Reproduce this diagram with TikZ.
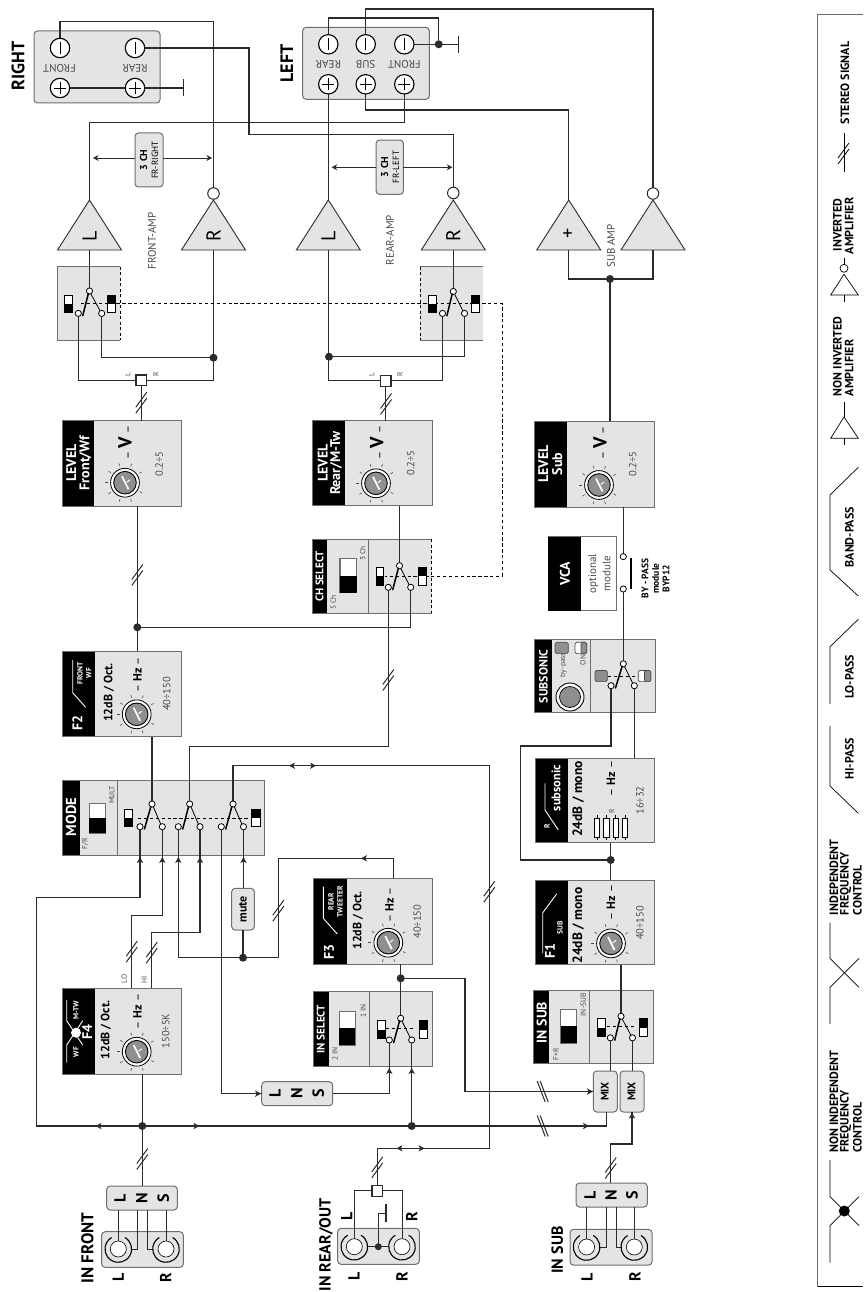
\documentclass[tikz,border=0pt]{standalone}
\usepackage{fontspec}
\setmainfont{PT Sans}
\usetikzlibrary{arrows.meta,calc}
\definecolor{pgray}{HTML}{E3E4E6}
\definecolor{edge}{HTML}{6E6E6E}
\definecolor{wc}{HTML}{2B2B2B}
\definecolor{tg}{HTML}{4A4A4A}
\definecolor{kg}{HTML}{8E8F91}
\newcount\tcnt
\newcommand\fs[1]{\fontsize{#1}{#1}\selectfont}
\pgfdeclarelayer{bg}\pgfdeclarelayer{wires}
\pgfsetlayers{bg,wires,main}
\tikzset{
 wire/.style={draw=wc,line width=1.2pt,line join=miter},
 lbl/.style={rotate=90,inner sep=0pt,outer sep=0pt},
 panelbox/.style={fill=pgray,inner sep=0pt,outer sep=0pt},
 frame/.style={draw=edge,line width=.9pt},
 soft/.style={fill=pgray,draw=edge,line width=1pt,rounded corners=3.5pt,inner sep=0pt,outer sep=0pt},
 contact/.style={circle,draw=black,fill=white,line width=.8pt,minimum size=6.2pt,inner sep=0pt,outer sep=0pt},
 dotn/.style={circle,fill=wc,minimum size=8pt,inner sep=0pt,outer sep=0pt},
 invc/.style={circle,draw=wc,fill=white,line width=1pt,minimum size=11.5pt,inner sep=0pt,outer sep=0pt},
 term/.style={circle,draw=black,fill=white,line width=1.1pt,minimum size=19.4pt,inner sep=0pt,outer sep=0pt},
 sq/.style={rectangle,draw=wc,fill=white,line width=1.1pt,minimum size=10.6pt,inner sep=0pt,outer sep=0pt},
 title/.style={white,font=\fs{14}\bfseries},
 tiny/.style={white,font=\fs{7.5}\bfseries},
 small/.style={tg,font=\fs{7.5}},
 val/.style={tg,font=\fs{10.5}},
 dbt/.style={black,font=\fs{12}\bfseries},
 lgt/.style={black,font=\fs{12}\bfseries,anchor=west},
 thinarrow/.style={draw=wc,line width=.7pt,{Stealth[length=5.5pt,width=6pt]}-},
 dashl/.style={draw=black,line width=.6pt,dash pattern=on 3.3pt off 2.6pt},
 legline/.style={draw=black,line width=.7pt},
}
\newcommand\T[4][]{\global\advance\tcnt by 1 \node[lbl,#1] (t\the\tcnt) at (#2,#3) {#4};}
\newcommand\panel[6]{%
 \pgfmathsetmacro\pw{#4-#2}\pgfmathsetmacro\ph{#5-#3}%
 \node[panelbox,minimum width=\pw pt,minimum height=\ph pt] (#1) at ({(#2+#4)/2},{(#3+#5)/2}) {};
 \fill[black] (#2,#3) rectangle (#6,#5);
 \draw[frame] (#2,#3) rectangle (#4,#5);}
\newcommand\knob[2]{\begin{scope}[shift={(#1,#2)}]
 \foreach \a in {-145,-107,-71,-33,31,71,107,146,180} \draw[draw=tg,line width=.6pt] (\a:17.2) -- (\a:20);
 \draw[black,fill=white,line width=.8pt] (0,0) circle [radius=14.4];
 \draw[black,fill=kg,line width=.9pt] (0,0) circle [radius=11.3];
 \draw[white,line width=1.7pt] (-3,-6.5) -- (3.5,6.5);
 \draw[white,line width=1pt] (1.8,-.5) -- (5,-3);
 \end{scope}}
\newcommand\toggle[4]{%
 \draw[draw=edge,fill=white,line width=1.2pt] (#1,#2) rectangle (#3,#4);
 \fill[black] ($(#1,#2)!.5!(#1,#4)$) rectangle (#3,#4);}
\newcommand\indic[5]{% x1 y1 x2 y2 black-half: 0 lower 1 upper
 \draw[draw=black,fill=white,line width=.7pt] (#1,#2) rectangle (#3,#4);
 \ifnum#5=0 \fill[black] (#1,{(#2+#4)/2}) rectangle (#3,#4);
 \else \fill[black] (#1,#2) rectangle (#3,{(#2+#4)/2}); \fi}
\newcommand\arms[3]{% names: common,left,right
 \draw[black,line width=1.5pt] ([shift={(-1,2)}]#1.center) -- ([shift={(4.3,2.8)}]#2.center);
 \draw[black,line width=.8pt] ([shift={(1.4,3)}]#1.center) -- ([shift={(-1.6,-2.6)}]#3.center);}
\newcommand\amp[2]{% name, x
 \fill[pgray] (#2,200) -- ++(32,50) -- ++(-64,0) -- cycle;
 \draw[draw=wc,line width=.9pt] (#2,200) -- ++(32,50) -- ++(-64,0) -- cycle;
 \coordinate (#1-a) at (#2,200); \coordinate (#1-b) at (#2,250);}
\newcommand\arrU[2]{\fill[wc] (#1,#2) -- ++(3.2,6) -- ++(-3.2,-1.6) -- ++(-3.2,1.6) -- cycle;}
\newcommand\arrL[2]{\fill[wc] (#1,#2) -- ++(6,3.2) -- ++(-1.6,-3.2) -- ++(1.6,-3.2) -- cycle;}
\newcommand\arrR[2]{\fill[wc] (#1,#2) -- ++(-6,3.2) -- ++(1.6,-3.2) -- ++(-1.6,-3.2) -- cycle;}
\newcommand\stv[2]{\draw[wc,line width=1pt] (#1,#2) ++(-5.5,4.5) -- ++(11,-15);\draw[wc,line width=1pt] (#1,#2) ++(-5.5,10.5) -- ++(11,-15);}
\newcommand\sth[2]{\draw[wc,line width=1pt] (#1,#2) ++(-5.5,-10.5) -- ++(8,21);\draw[wc,line width=1pt] (#1,#2) ++(-2.5,-10.5) -- ++(8,21);}
\newcommand\jack[3]{% name x y
 \draw[black,line width=1.1pt] (#2,#3) ++(-60:13.3) arc[start angle=-60,end angle=240,radius=13.3];
 \node[circle,draw=black,fill=white,line width=.6pt,minimum size=16pt,inner sep=0pt,outer sep=0pt] (#1) at (#2,#3) {};}
\newcommand\tmark[2]{\draw[black,line width=.8pt] (#1.center) ++(0,-6) -- ++(0,12); \ifnum#2=1 \draw[black,line width=.8pt] (#1.center) ++(-6,0) -- ++(12,0);\fi}
\begin{document}
\begin{tikzpicture}[x=1pt,y=-1pt]
\useasboundingbox (0,0) rectangle (863,1292);

% ---------- panels -------------
\begin{pgfonlayer}{bg}
\node[soft,minimum width=126pt,minimum height=72pt] (rbox) at (97,67) {};
\node[soft,minimum width=126.6pt,minimum height=72pt] (lbox) at (366,63.3) {};
\node[soft,minimum width=28pt,minimum height=54pt] (cf) at (149,160) {};
\node[soft,minimum width=27.3pt,minimum height=54.3pt] (cr) at (389.7,167.2) {};
\node[panelbox,minimum width=63pt,minimum height=73.3pt] (fsw) at (88.5,303.4) {};
\draw[frame] (120,266.7) -- (57,266.7) -- (57,340) -- (120,340);
\draw[draw=black,line width=.7pt,dash pattern=on 3pt off 2.5pt] (120,266.7) -- (120,340);
\node[panelbox,minimum width=62.7pt,minimum height=73.3pt] (rsw) at (451.4,303.4) {};
\draw[frame] (483,266.7) -- (420,266.7);
\draw[frame] (420,340) -- (483,340);
\draw[draw=black,line width=.7pt,dash pattern=on 3pt off 2.5pt] (420,266.7) -- (420,340);
\panel{lvf}{62}{420.7}{181.3}{506.3}{94.3}
\panel{lvr}{312.7}{420.7}{432.3}{505.7}{345}
\panel{lvs}{534.3}{421.4}{654}{507}{566.7}
\panel{csel}{312.3}{539}{431.7}{613.3}{327.3}
\draw[draw=edge,line width=1pt] (368.3,539) -- (368.3,613.3);
\draw[draw=pgray,line width=1pt] (431.7,539) -- (431.7,613.3);
\draw[draw=black,line width=.7pt,dash pattern=on 3pt off 2.5pt] (431.7,539) -- (431.7,613.3);
\panel{ff2}{62}{651}{181.3}{736.7}{95}
\panel{ff4}{62}{988.3}{181.3}{1074.3}{95}
\panel{ff3}{313.3}{878.3}{432.7}{964}{346.7}
\panel{mode}{62.3}{780.7}{264.3}{855}{80}
\draw[draw=edge,line width=1pt] (117.7,780.7) -- (117.7,855);
\panel{isel}{313.3}{991.7}{432.7}{1066}{328.7}
\draw[draw=edge,line width=1pt] (369,991.7) -- (369,1066);
\panel{sub}{534.3}{639.8}{655}{712.8}{551.7}
\draw[draw=edge,line width=1pt] (590.7,639.8) -- (590.7,712.8);
\panel{fsub}{535}{758}{654}{842.9}{568.3}
\panel{ff1}{535}{880}{654}{964.8}{568.3}
\panel{insub}{533.3}{990}{653.3}{1063}{549}
\draw[draw=edge,line width=1pt] (589.3,990) -- (589.3,1063);
\node[draw=edge,fill=white,line width=.9pt,minimum width=67.7pt,minimum height=74pt,inner sep=0pt,outer sep=0pt] (vca) at (582.2,573.7) {};
\fill[black] (548.3,536.7) rectangle (580.7,610.7);
\node[soft,minimum width=81.6pt,minimum height=35.6pt] (jf) at (142.5,1249.5) {};
\node[soft,minimum width=81.6pt,minimum height=36pt] (jr) at (378.5,1246.3) {};
\node[soft,minimum width=82pt,minimum height=35.7pt] (js) at (611,1247.2) {};
\node[soft,minimum width=70.6pt,minimum height=24pt] (lf) at (142,1198) {};
\node[soft,minimum width=71pt,minimum height=24pt] (ln2) at (297.2,1093.7) {};
\node[soft,minimum width=71.3pt,minimum height=24pt] (ls) at (611.7,1195) {};
\node[soft,minimum width=22.6pt,minimum height=41.7pt] (mute) at (243,909.2) {};
\node[soft,minimum width=24pt,minimum height=41pt] (mix1) at (605.3,1091.5) {};
\node[soft,minimum width=24pt,minimum height=41pt] (mix2) at (632,1091.5) {};
\amp{fl}{89.5}\amp{fr}{213.5}\amp{rl}{328.3}\amp{rr}{453.3}\amp{sl}{568.7}\amp{sr}{653}
\end{pgfonlayer}

% ---------- terminals, dots, contacts -------------
\node[term] (rfm) at (60,48) {}; \node[term] (rrm) at (135,48) {};
\node[term] (rfp) at (60,88) {}; \node[term] (rrp) at (135,88) {};
\node[term] (lrm) at (328.3,44.3) {}; \node[term] (lsm) at (365.7,44.3) {}; \node[term] (lfm) at (404.3,44.3) {};
\node[term] (lrp) at (328.3,84.3) {}; \node[term] (lsp) at (365.7,84.3) {}; \node[term] (lfp) at (404.3,84.3) {};
\tmark{rfm}{0}\tmark{rrm}{0}\tmark{rfp}{1}\tmark{rrp}{1}
\tmark{lrm}{0}\tmark{lsm}{0}\tmark{lfm}{0}\tmark{lrp}{1}\tmark{lsp}{1}\tmark{lfp}{1}
\node[invc] (frc) at (213.5,193.5) {}; \node[invc] (rrc) at (453.3,193) {}; \node[invc] (src) at (653,193.5) {};
\node[dotn] (dg) at (438.7,44.3) {};
\coordinate (g1) at (183.3,88); \coordinate (g2) at (458.3,44.3);
\node[dotn] (dsub) at (610,279) {};
\node[dotn] (dfs) at (213.5,357.7) {};
\node[dotn] (drs) at (329,356.7) {};
\node[dotn] (dlf) at (137.3,627.3) {};
\node[dotn] (dfb) at (142.3,1126) {};
\node[dotn] (drb) at (411.7,1126) {};
\node[dotn] (dm) at (243,957.7) {};
\node[dotn] (di) at (400.7,978.3) {};
\node[dotn] (df1) at (610.7,860) {};
\node[dotn,minimum size=7pt] (djr) at (378.3,1246.7) {};
\node[sq] (fq) at (141.3,380.3) {}; \node[sq] (rq) at (385.7,380.8) {}; \node[sq] (jq) at (377.3,1190.8) {};
\node[contact] (fsc) at (89.5,291) {}; \node[contact] (fsl) at (78.3,313.4) {}; \node[contact] (fsr) at (101.7,313.4) {};
\node[contact] (rsc) at (453.3,291.5) {}; \node[contact] (rsl) at (442.5,313.4) {}; \node[contact] (rsr) at (464.5,313.4) {};
\node[contact] (csc) at (399.5,565.7) {}; \node[contact] (csl) at (388.3,587.3) {}; \node[contact] (csr) at (410.7,587.3) {};
\node[contact] (m1c) at (152,804) {}; \node[contact] (m1l) at (140,826.7) {}; \node[contact] (m1r) at (162.3,826.7) {};
\node[contact] (m2c) at (189.7,804) {}; \node[contact] (m2l) at (178.3,826.7) {}; \node[contact] (m2r) at (200,826.7) {};
\node[contact] (m3c) at (233,804) {}; \node[contact] (m3l) at (221.3,826.7) {}; \node[contact] (m3r) at (243.5,826.7) {};
\node[contact] (isc) at (400.7,1018.3) {}; \node[contact] (isl) at (389.3,1040) {}; \node[contact] (isr) at (411.7,1040) {};
\node[contact] (ssc) at (623.3,663.8) {}; \node[contact] (ssl) at (611,685.7) {}; \node[contact] (ssr) at (634.3,685.7) {};
\node[contact] (ibc) at (621,1016.3) {}; \node[contact] (ibl) at (610.3,1037.8) {}; \node[contact] (ibr) at (632.5,1037.8) {};
\node[contact] (by1) at (623.3,556.6) {}; \node[contact] (by2) at (623.3,589) {};

% dashed ganging (under the indicators)
\draw[dashl] (81,303.5) -- (502,303.5) -- (502,576) -- (385,576);
\draw[dashl] (138,818) -- (248,818);
\draw[dashl] (386,1028.7) -- (415,1028.7);
\draw[dashl] (607,1026.5) -- (636,1026.5);
\draw[dashl] (608,676.5) -- (638,676.5);

\arms{fsc}{fsl}{fsr}\arms{rsc}{rsl}{rsr}\arms{csc}{csl}{csr}
\arms{m1c}{m1l}{m1r}\arms{m2c}{m2l}{m2r}\arms{m3c}{m3l}{m3r}
\arms{isc}{isl}{isr}\arms{ssc}{ssl}{ssr}\arms{ibc}{ibl}{ibr}

\indic{64.3}{295}{72}{312.7}{0}\indic{107.7}{295}{115.4}{312.7}{1}
\indic{428.3}{295}{436}{312.7}{0}\indic{471.7}{295}{479.4}{312.7}{1}
\indic{376}{567.3}{383.7}{585}{0}\indic{418.3}{567.3}{426}{585}{1}
\indic{124.3}{809.3}{132.5}{826.7}{0}\indic{251.7}{809.3}{260}{826.7}{1}
\indic{377.3}{1020.7}{385}{1038.3}{0}\indic{419.3}{1020.7}{427}{1038.3}{1}
\indic{597.3}{1018.4}{605}{1036.7}{0}\indic{639.3}{1018.4}{647}{1036.7}{1}
\toggle{89.3}{803.3}{105.7}{833.3}
\toggle{340}{558.3}{356.7}{592.7}
\toggle{339.3}{1011.7}{355.3}{1045}
\toggle{560.7}{1009.7}{576.7}{1042.9}
\draw[draw=tg,fill=kg,line width=.7pt,rounded corners=1.5pt] (555,642.3) rectangle (568.3,653.6);
\draw[draw=tg,fill=white,line width=.7pt,rounded corners=1.5pt] (575,642.3) rectangle (586.7,653.6);
\draw[draw=tg,fill=kg,line width=.7pt,rounded corners=1.5pt] (581,642.3) rectangle (586.7,653.6);
\draw[draw=tg,fill=kg,line width=.7pt,rounded corners=1.5pt] (595,670.4) rectangle (607.3,681.6);
\draw[draw=tg,fill=white,line width=.7pt,rounded corners=1.5pt] (638.3,670.4) rectangle (650.7,681.6);
\draw[draw=tg,fill=kg,line width=.7pt,rounded corners=1.5pt] (644.5,670.4) rectangle (650.7,681.6);
\draw[black,fill=white,line width=.9pt] (570,697) circle [radius=14];
\draw[black,fill=kg,line width=.7pt] (570,697) circle [radius=10.5];
\knob{125}{482.7}\knob{376}{483.3}\knob{599}{485}
\knob{136.7}{714.3}\knob{136.7}{1051.7}\knob{388.3}{942.7}\knob{611}{943.4}
\jack{jfl}{118.3}{1249}\jack{jfr}{166}{1249}
\jack{jrl}{354.3}{1246.7}\jack{jrr}{402}{1246.7}
\jack{jsl}{586.6}{1247}\jack{jsr}{634.3}{1247}
\draw[black,line width=2.4pt] (630.7,558) -- (630.7,589);
\foreach \x in {597,606.3,615.5,624.8} {
 \draw[black,line width=.6pt] (\x,815) -- (\x,840);
 \draw[black,fill=white,line width=.7pt] ({\x-2.6},818) rectangle ({\x+2.6},837);}
\draw[white,line width=.9pt] (85.7,707.3) -- (72.7,692.7) -- (72.7,660);
\draw[white,line width=.9pt] (337.3,934) -- (323.3,918.3) -- (323.3,886.7);
\draw[white,line width=.9pt] (558.3,830) -- (545,810) -- (545,783.3);
\draw[white,line width=.9pt] (556.7,893.9) -- (542.7,912.8) -- (542.7,953);
\draw[white,line width=.9pt] (66.7,1000) -- (66.7,1020.7) -- (82.7,1045);
\draw[white,line width=.9pt] (66.7,1062.7) -- (66.7,1045) -- (82.7,1020.7);
\fill[white] (76,1032.7) circle [radius=5];

% ---------- wires -------------
\begin{pgfonlayer}{wires}
\draw[wire] (rfm.center) -- (60,21.7) -- (213.5,21.7) -- (frc);
\draw[wire] (rrm.center) -- (249,48) -- (249,134.5) -- (453.3,134.5) -- (rrc);
\draw[wire] (rfp.center) -- (rrp.center) -- (g1);
\draw[wire] (183.3,79) -- (183.3,96);
\draw[wire] (fl-a) -- (89.5,122.7) -- (404.3,122.7) -- (lfp.center);
\draw[wire] (rl-a) -- (lrp.center);
\draw[wire] (lrm.center) -- (328.3,18) -- (438.7,18) -- (dg.center);
\draw[wire] (lfm.center) -- (g2);
\draw[wire] (458.3,36) -- (458.3,52.7);
\draw[wire] (lsm.center) -- (365.7,9) -- (653,9) -- (src);
\draw[wire] (lsp.center) -- (365.7,110) -- (568.7,110) -- (sl-a);
\draw[wire] (sl-b) -- (568.7,279) -- (653,279) -- (sr-b);
\draw[wire] (dsub.center) -- (dsub.center |- lvs.north);
\draw[wire] (fl-b) -- (fsc);
\draw[wire] (fsl) -- (78.3,380.3) -- (fq);
\draw[wire] (fsr) -- (101.7,357.7) -- (dfs.center);
\draw[wire] (fr-b) -- (213.5,380.3) -- (fq);
\draw[wire] (fq) -- (fq.center |- lvf.north);
\draw[wire] (rr-b) -- (rsc);
\draw[wire] (rsl) -- (442.5,380.8) -- (rq);
\draw[wire] (rsr) -- (464.5,356.7) -- (drs.center);
\draw[wire] (rl-b) -- (328.3,380.8) -- (rq);
\draw[wire] (rq) -- (rq.center |- lvr.north);
\draw[wire] (csc) -- (csc.center |- lvr.south);
\draw[wire] (137.3,506.3) -- (dlf.center) -- (137.3,651);
\draw[wire] (dlf.center) -- (410.7,627.3) -- (csr);
\draw[wire] (152,736.7) -- (m1c);
\draw[wire] (m2c) -- (189.7,746.7) -- (388.3,746.7) -- (csl);
\draw[wire] (m3c) -- (233,765.7) -- (489.3,765.7) -- (489.3,1148.3) -- (377.3,1148.3) -- (jq);
\draw[wire] (m1l) -- (140,897.7) -- (36.7,897.7) -- (36.7,1126) -- (dfb.center) -- (drb.center) -- (606.7,1126) -- (606.7,1112);
\draw[wire] (m1r) -- (162.3,915.7) -- (131.7,915.7) -- (131.7,988.3);
\draw[wire] (m2r) -- (200,932.3) -- (151.7,932.3) -- (151.7,988.3);
\draw[wire] (m2l) -- (178.3,957.7) -- (278.3,957.7) -- (278.3,858.3) -- (393.3,858.3) -- (393.3,878.3);
\draw[wire] (m3l) -- (221.3,1093.7) -- (ln2.west);
\draw[wire] (m3r) -- (m3r.center |- mute.north);
\draw[wire] (mute.south) -- (dm.center);
\draw[wire] (142.3,1074.3) -- (dfb.center) -- (142.3,1186);
\draw[wire] (isc) -- (di.center) -- (400.7,964);
\draw[wire] (di.center) -- (465,978.3) -- (465,1091.5) -- (mix1.west);
\draw[wire] (isr) -- (drb.center);
\draw[wire] (isl) -- (389.3,1093.7) -- (ln2.east);
\draw[wire] (ibl) -- (ibl.center |- mix1.north);
\draw[wire] (ibr) -- (ibr.center |- mix2.north);
\draw[wire] (ibc) -- (621,964.8);
\draw[wire] (mix2.south) -- (632,1144) -- (610.7,1144) -- (610.7,1183);
\draw[wire] (610.7,880) -- (df1.center) -- (610.7,842.9);
\draw[wire] (df1.center) -- (520.7,860) -- (520.7,746) -- (611,746) -- (ssl);
\draw[wire] (ssr) -- (634.3,758);
\draw[wire] (ssc) -- (by2);
\draw[wire] (by1) -- (623.3,507);
\draw[wire,line width=1pt] (118.3,1210) -- (jfl);
\draw[wire,line width=1pt] (137.7,1210) -- (137.7,1249.3) -- (131.6,1249.3);
\draw[wire,line width=1pt] (147.7,1210) -- (147.7,1249.3) -- (152.7,1249.3);
\draw[wire,line width=1pt] (166,1210) -- (jfr);
\draw[wire,line width=1pt] (586.6,1207) -- (jsl);
\draw[wire,line width=1pt] (606,1207) -- (606,1247) -- (599.9,1247);
\draw[wire,line width=1pt] (616,1207) -- (616,1247) -- (621,1247);
\draw[wire,line width=1pt] (634.3,1207) -- (jsr);
\draw[wire,line width=1pt] (jq) -- (354.3,1190.8) -- (jrl);
\draw[wire,line width=1pt] (jq) -- (402,1190.8) -- (jrr);
\draw[wire,line width=1pt] (367.6,1246.7) -- (388.9,1246.7);
\draw[wire,line width=1pt] (djr.center) -- (378.3,1213.3) -- (386,1213.3);
\draw[wire] (386,1204.3) -- (386,1222);
\coordinate (tfl) at (93,158); \coordinate (tfr) at (212,158);
\coordinate (trl) at (331.7,167.3); \coordinate (trr) at (452.3,167.3);
\draw[thinarrow] (tfl) -- (cf.west |- tfl);
\draw[thinarrow] (tfr) -- (cf.east |- tfr);
\draw[thinarrow] (trl) -- (cr.west |- trl);
\draw[thinarrow] (trr) -- (cr.east |- trr);
\end{pgfonlayer}

\stv{141.3}{402.7}\stv{386}{404}\stv{137.3}{575}\stv{388.3}{680}
\stv{278.3}{910.7}\stv{131.7}{951.7}\stv{151.7}{952.7}\stv{489.3}{891.7}
\stv{142.3}{1159}\stv{377.3}{1167.3}\stv{610.7}{1168}
\sth{542.7}{1091.5}\sth{542.7}{1126}

\arrU{140}{857}\arrU{162.3}{857}\arrU{178.3}{857}\arrU{200}{857}\arrU{243.5}{857}
\arrU{389.3}{1068}\arrU{411.7}{1068}\arrU{632}{1112.5}
\arrL{289}{765.7}\arrR{316}{765.7}\arrL{361}{858.3}
\arrL{396.5}{1148.3}\arrR{424.5}{1148.3}
\arrL{95.5}{1126}\arrR{199.5}{1126}
\arrR{261}{1093.7}\arrR{593}{1091.5}\arrR{589}{1126}

% ---------- text -------------
\T[font=\fs{18}\bfseries]{18}{66}{RIGHT}
\T[font=\fs{18}\bfseries]{286.7}{63.5}{LEFT}
\T[rotate=90,font=\fs{11},tg]{59.5}{68}{FRONT}
\T[rotate=90,font=\fs{11},tg]{135}{68}{REAR}
\T[rotate=90,font=\fs{11},tg]{328.3}{64.7}{REAR}
\T[rotate=90,font=\fs{11},tg]{365.7}{64.7}{SUB}
\T[rotate=90,font=\fs{11},tg]{404.3}{64.7}{FRONT}
\T[font=\fs{10}\bfseries]{143.5}{160}{3 CH}
\T[font=\fs{9}]{155}{160}{FR-RIGHT}
\T[font=\fs{10}\bfseries]{384.5}{167}{3 CH}
\T[font=\fs{9}]{396}{167}{FR-LEFT}
\T[font=\fs{11},tg]{152}{241}{FRONT-AMP}
\T[font=\fs{11},tg]{390}{240}{REAR-AMP}
\T[font=\fs{11},tg]{611}{246}{SUB AMP}
\T[font=\fs{20}]{89.5}{236}{L}\T[font=\fs{20}]{213.5}{236}{R}
\T[font=\fs{20}]{328.3}{236}{L}\T[font=\fs{20}]{453.3}{236}{R}
\T[font=\fs{20}]{568.7}{233}{+}
\T[small]{127.7}{375}{L}\T[small]{156}{374}{R}\T[small]{371.7}{375}{L}\T[small]{400}{374}{R}
\T[title]{71.3}{463}{LEVEL}\T[title]{85.3}{463}{Front/Wf}
\T[title]{322.7}{463}{LEVEL}\T[title]{336}{463}{Rear/M-Tw}
\T[title]{543.3}{464}{LEVEL}\T[title]{557.3}{464}{Sub}
\newcommand\Vtxt{– {\bfseries\fs{19}V} –}
\newcommand\Hztxt{– {\bfseries Hz} –}
\T[font=\fs{12},black]{125}{442.3}{\Vtxt}
\T[font=\fs{12},black]{376.7}{442.3}{\Vtxt}
\T[font=\fs{12},black]{600}{443}{\Vtxt}
\T[val]{159.3}{464}{0.2÷5}\T[val]{410.7}{463.3}{0.2÷5}\T[val]{632.7}{464}{0.2÷5}
\T[title,font=\fs{11}\bfseries]{319.5}{576.5}{CH SELECT}
\T[small]{362.7}{553.3}{3 Ch}\T[small]{333.3}{602.7}{5 Ch}
\T[title,font=\fs{11}\bfseries]{320.7}{1029.3}{IN SELECT}
\T[small]{363.3}{1011}{1 IN}\T[small]{335}{1054}{2 IN}
\T[title,font=\fs{14.5}\bfseries]{71}{817}{MODE}
\T[small]{111.7}{795}{MULT}\T[small]{85.3}{844}{F/R}
\T[title,font=\fs{12}\bfseries]{543.3}{676.5}{SUBSONIC}
\T[small]{563.3}{665}{by-pass}\T[small]{583}{660}{ON}
\T[title]{541.7}{1022.4}{IN SUB}
\T[small]{583.3}{1004.6}{IN-SUB}\T[small]{556}{1054}{F+R}
\T[title]{77.3}{722.7}{F2}
\T[tiny]{80}{673.3}{FRONT}
\T[tiny]{88.7}{673.3}{WF}
\T[dbt]{109}{692.7}{12dB / Oct.}
\T[font=\fs{12},black]{137.3}{675}{\Hztxt}
\T[val]{166.7}{694}{40÷150}
\T[title]{329}{951.7}{F3}
\T[tiny]{331}{901.7}{REAR}
\T[tiny]{340}{901.7}{TWEETER}
\T[dbt]{358}{920.5}{12dB / Oct.}
\T[font=\fs{12},black]{389.3}{905}{\Hztxt}
\T[val]{417.3}{921.7}{40÷150}
\T[title]{87.3}{1031.7}{F4}
\T[tiny]{76}{1052}{WF}
\T[tiny]{76}{1010}{M-TW}
\T[dbt]{106}{1030}{12dB / Oct.}
\T[font=\fs{12},black]{137.3}{1011.7}{\Hztxt}
\T[val]{165.7}{1031}{150÷5K}
\T[small]{124.3}{979}{LO}\T[small]{144.3}{980}{HI}
\T[title]{550}{951}{F1}
\T[tiny]{560}{928}{SUB}
\T[dbt,font=\fs{13.5}\bfseries]{578.3}{925.5}{24dB / mono}
\T[font=\fs{12},black]{611}{902.6}{\Hztxt}
\T[val]{640}{923}{40÷150}
\T[title,font=\fs{12.5}\bfseries]{556}{788}{subsonic}
\T[tiny]{547}{826.7}{R}
\T[dbt,font=\fs{13.5}\bfseries]{578.3}{799}{24dB / mono}
\T[font=\fs{12},black]{611}{778.6}{\Hztxt}
\T[small]{611.7}{811}{R}
\T[val]{640}{800.5}{16÷32}
\T[title]{565}{573.5}{VCA}
\T[font=\fs{11},tg]{593.3}{573.5}{optional}
\T[font=\fs{11},tg]{606.7}{573.5}{module}
\T[font=\fs{9.5}\bfseries]{645}{578.6}{BY - PASS}
\T[font=\fs{9.5}\bfseries]{655.5}{578.6}{module}
\T[font=\fs{9.5}\bfseries]{666}{578.6}{BYP12}
\T[font=\fs{12}\bfseries]{243}{909.2}{mute}
\T[font=\fs{11}\bfseries]{604.7}{1091.5}{MIX}
\T[font=\fs{11}\bfseries]{631.5}{1091.5}{MIX}
\newcommand\lnsfont{\fs{16}\bfseries}
\T[font=\lnsfont]{120}{1198}{L}\T[font=\lnsfont]{141.7}{1198}{N}\T[font=\lnsfont]{163.3}{1198}{S}
\T[font=\lnsfont]{275}{1093.7}{L}\T[font=\lnsfont]{296.7}{1093.7}{N}\T[font=\lnsfont]{318.3}{1093.7}{S}
\T[font=\lnsfont]{590}{1195}{L}\T[font=\lnsfont]{611}{1195}{N}\T[font=\lnsfont]{632}{1195}{S}
\T[font=\fs{17}\bfseries]{87.3}{1248}{IN FRONT}
\T[font=\fs{16}\bfseries]{326}{1245}{IN REAR/OUT}
\T[font=\fs{16}\bfseries]{557.3}{1250}{IN SUB}
\T[font=\lnsfont]{118.3}{1277.3}{L}\T[font=\lnsfont]{165.7}{1277.3}{R}
\T[font=\lnsfont]{354}{1276.7}{L}\T[font=\lnsfont]{402}{1276.7}{R}
\T[font=\lnsfont]{587}{1277}{L}\T[font=\lnsfont]{635}{1277}{R}
\T[font=\lnsfont]{346.7}{1216.7}{L}\T[font=\lnsfont]{411.7}{1216.7}{R}

% ---------- legend -------------
\draw[draw=edge,line width=1.2pt] (863,14.7) -- (817.7,14.7) -- (817.7,1286.7);
\draw[draw=black,line width=.7pt] (817.7,1286.7) -- (863,1286.7);
\draw[legline] (844,133) -- (844,171.7); \draw[black,line width=.8pt] (838,158) -- ++(11,-15); \draw[black,line width=.8pt] (838,164) -- ++(11,-15);
\T[lgt,anchor=center]{845}{83}{STEREO SIGNAL}
\T[lgt]{837.3}{251}{INVERTED}\T[lgt]{849}{254}{AMPLIFIER}
\draw[legline] (830.7,295) -- (844,274.3) -- (858.3,295) -- cycle;
\draw[legline] (844,295) -- (844,301.7); \draw[legline] (844,258) -- (844,264.3);
\node[circle,draw=black,fill=white,line width=.7pt,minimum size=8pt,inner sep=0pt] (lgc) at (844,268.3) {};
\T[lgt]{837.3}{396}{NON INVERTED}\T[lgt]{849}{396}{AMPLIFIER}
\draw[legline] (830.7,438.3) -- (844,417) -- (858.3,438.3) -- cycle;
\draw[legline] (844,438.3) -- (844,445); \draw[legline] (844,402) -- (844,417);
\T[lgt]{849.3}{567.3}{BAND-PASS}
\draw[legline] (858.3,467.3) -- (830,495) -- (830,570) -- (858.3,596);
\T[lgt]{849.3}{698.3}{LO-PASS}
\draw[legline] (858.3,619.3) -- (830,646.7) -- (830,704);
\T[lgt]{849.3}{779.3}{HI-PASS}
\draw[legline] (830,726) -- (830,786) -- (858.3,813.3);
\T[lgt]{834}{915}{INDEPENDENT}\T[lgt]{845.7}{915}{FREQUENCY}\T[lgt]{857.3}{915}{CONTROL}
\draw[legline] (830,922.7) -- (830,958.3) -- (859,987.3);
\draw[legline] (830,1024) -- (830,987.3) -- (859,958.3);
\T[lgt]{834}{1152.7}{NON INDEPENDENT}\T[lgt]{845.7}{1152.7}{FREQUENCY}\T[lgt]{857.3}{1152.7}{CONTROL}
\draw[legline] (830,1160) -- (830,1196.7) -- (859,1225.7);
\draw[legline] (830,1262.7) -- (830,1225.7) -- (859,1196.7);
\fill[black] (844.3,1211) circle [radius=5.5];
\end{tikzpicture}
\end{document}
